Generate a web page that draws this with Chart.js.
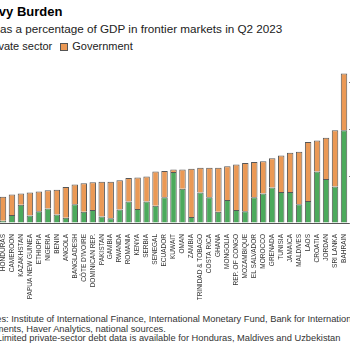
<!DOCTYPE html>
<html>
<head>
<meta charset="utf-8">
<script src="https://cdn.jsdelivr.net/npm/chart.js"></script>
<style>
  body { margin: 0; background: #fff; font-family: "Liberation Sans", Arial, sans-serif; }
  #wrap { position: relative; width: 350px; height: 350px; overflow: hidden; }
  .txt { position: absolute; left: -27px; white-space: nowrap; }
  #title { top: 4px; left: -25px; font-size: 13px; font-weight: bold; color: #000; }
  #sub { top: 22px; left: -28px; font-size: 11.7px; color: #222; }
  #legend { top: 40px; font-size: 11px; color: #222; }
  #legend span.sw { display: inline-block; width: 8px; height: 8px; border: 1px solid #555; margin-right: 4px; vertical-align: -1px; box-sizing: border-box; }
  #legend span.item { margin-right: 8px; }
  #foot { top: 315px; left: -28px; font-size: 9.3px; line-height: 9.5px; color: #333; }
  #chart { position: absolute; left: -30px; top: 60px; }
</style>
</head>
<body>
<div id="wrap">
  <div id="title" class="txt">Heavy Burden</div>
  <div id="sub" class="txt">Debt as a percentage of GDP in frontier markets in Q2 2023</div>
  <div id="legend" class="txt"><span class="item"><span class="sw" style="background:#4caa5c"></span>Private sector</span><span class="item"><span class="sw" style="background:#eb9955"></span>Government</span></div>
  <canvas id="chart" width="440" height="243"></canvas>
  <div id="foot" class="txt">Sources: Institute of International Finance, International Monetary Fund, Bank for International<br>Settlements, Haver Analytics, national sources.<br>Note: Limited private-sector debt data is available for Honduras, Maldives and Uzbekistan</div>
</div>
<script>
const countries = [
  "HONDURAS", "CAMEROON", "KAZAKHSTAN", "PAPUA NEW GUINEA", "ETHIOPIA",
  "NIGERIA", "BENIN", "ANGOLA", "BANGLADESH", "CÔTE D'IVOIRE",
  "DOMINICAN REP.", "PAKISTAN", "GAMBIA", "RWANDA", "ROMANIA",
  "KENYA", "SERBIA", "SENEGAL", "ECUADOR", "KUWAIT",
  "OMAN", "ZAMBIA", "TRINIDAD & TOBAGO", "COSTA RICA", "GHANA",
  "MONGOLIA", "REP. OF CONGO", "MOZAMBIQUE", "EL SALVADOR", "MOROCCO",
  "GRENADA", "TUNISIA", "JAMAICA", "MALDIVES", "LAOS",
  "CROATIA", "JORDAN", "SRI LANKA", "BAHRAIN"
];

const privateSector = [5, 17, 39, 16, 25, 31, 18, 11, 40, 24, 28, 14, 10, 29, 46, 30, 46, 37, 55, 109,
  73, 13, 65, 55, 24, 49, 28, 25, 55, 63, 76, 66, 66, 40, 47, 110, 94, 78, 198];

const government = [51, 44, 24, 49, 42, 39, 53, 66, 42, 61, 59, 74, 78, 62, 50, 67, 53, 73, 56, 5,
  41, 103, 53, 63, 94, 72, 97, 103, 75, 69, 62, 78, 84, 112, 126, 66, 88, 120, 121];

const yTicks = [0, 100, 200, 300];

let chart = new Chart(document.getElementById("chart"), {
  type: "bar",
  data: {
    labels: countries,
    datasets: [
      {
        label: "Private sector",
        data: privateSector,
        backgroundColor: "#4caa5c",
        borderColor: "rgba(45,45,45,0.8)",
        borderWidth: 1,
      },
      {
        label: "Government",
        data: government,
        backgroundColor: "#eb9955",
        borderColor: "rgba(45,45,45,0.8)",
        borderWidth: 1,
      },
    ],
  },
  options: {
    responsive: false,
    animation: false,
    layout: { padding: { left: 28.5, top: 7, right: 0, bottom: 0 } },
    plugins: {
      legend: { display: false },
      tooltip: { enabled: false },
    },
    datasets: { bar: { categoryPercentage: 1, barPercentage: 0.72 } },
    scales: {
      x: {
        stacked: true,
        grid: { display: false },
        border: { display: true, color: "#555" },
        ticks: {
          autoSkip: false,
          minRotation: 90,
          maxRotation: 90,
          padding: 3,
          color: "#333",
          font: { family: "Liberation Sans", size: 6.5 },
        },
        afterFit: (scale) => { scale.height = 80; },
      },
      y: {
        stacked: true,
        position: "right",
        min: 0,
        max: 330,
        grid: { drawOnChartArea: false, drawTicks: true, tickLength: 4, color: "#777" },
        border: { display: false },
        ticks: {
          stepSize: 100,
          color: "#333",
          font: { family: "Liberation Sans", size: 9 },
          callback: (v) => v + "%",
        },
        afterBuildTicks: (scale) => {
          scale.ticks = yTicks.map((v) => ({ value: v }));
        },
        afterFit: (scale) => { scale.width = 61.5; },
      },
    },
  },
});
</script>
</body>
</html>
